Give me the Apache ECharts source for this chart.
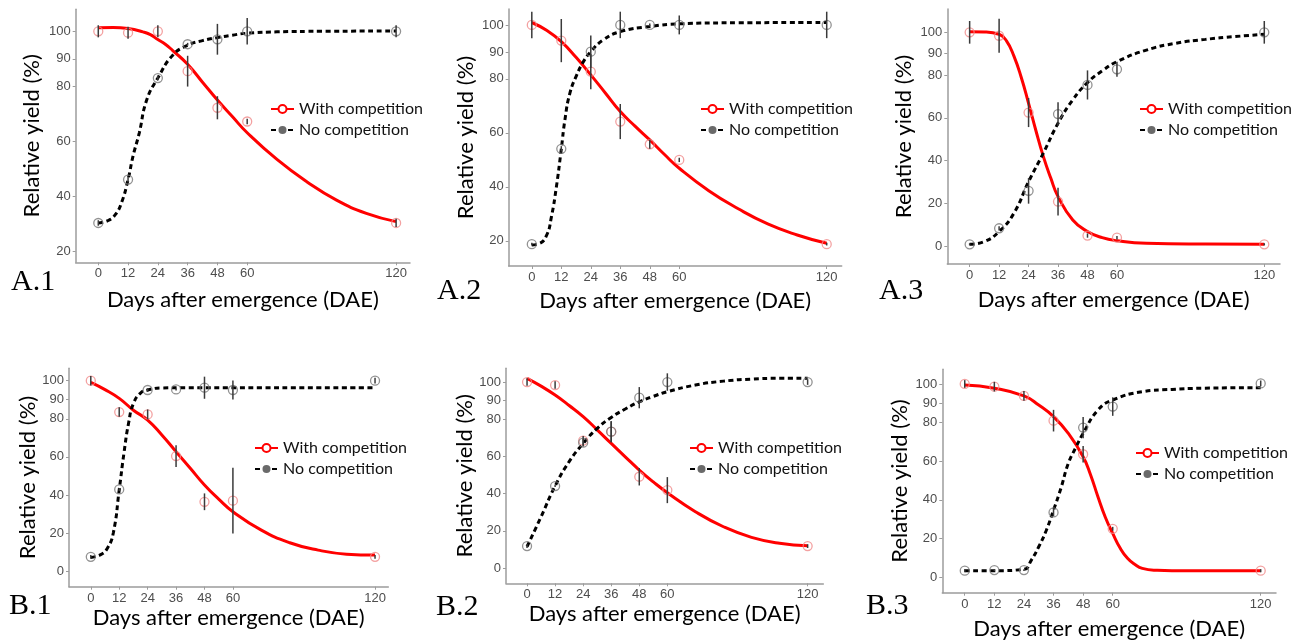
<!DOCTYPE html>
<html>
<head>
<meta charset="utf-8">
<script src="https://cdn.jsdelivr.net/npm/echarts@6/dist/echarts.min.js"></script>
<style>
  body { margin: 0; background: #fff; }
  #chart { width: 1310px; height: 642px; }
</style>
</head>
<body>
<div id="chart"></div>
<script>
// sampling days (x categories) and tick labels
var days = [0, 12, 24, 36, 48, 60, 120];
var yTicksA = [20, 40, 60, 80, 90, 100];
var yTicksB = [0, 20, 40, 60, 80, 90, 100];
var panelNames = ['A.1', 'A.2', 'A.3', 'B.1', 'B.2', 'B.3'];

// observed means and error bars
var a1WithMean = [100, 99.5, 100, 85.5, 72.2, 67.2, 30.3];
var a1WithErr  = [2.2, 2.2, 2.2, 5.6, 4.2, 1, 1.5];
var a1NoMean   = [30.3, 46.1, 83, 95.3, 97.1, 100, 100];
var a1NoErr    = [1, 1, 0.8, 0.5, 5.6, 4.8, 2.2];

var a2WithMean = [100, 94.2, 82.7, 64.2, 55.8, 50, 18.8];
var a2WithErr  = [4.9, 8, 6.5, 6.5, 1.7, 0.8, 0.5];
var a2NoMean   = [18.8, 54.1, 90.1, 100, 100, 100, 100];
var a2NoErr    = [0.5, 1, 6, 4.9, 0.5, 3.5, 4.9];

var a3WithMean = [100, 98.4, 62.5, 20.9, 5, 4, 0.9];
var a3WithErr  = [5.3, 8, 6.8, 6.5, 1, 0.8, 0.5];
var a3NoMean   = [0.9, 8.4, 25.9, 61.8, 75.4, 82.7, 100];
var a3NoErr    = [0.5, 1, 6, 5.5, 6.8, 3.5, 5.3];

var b1WithMean = [100, 83.5, 82.3, 60.4, 36.4, 37, 7.5];
var b1WithErr  = [2.5, 2.5, 2.6, 5.7, 4.4, 17.3, 1];
var b1NoMean   = [7.5, 42.9, 95.1, 95.4, 96.3, 95.1, 100];
var b1NoErr    = [1, 0.8, 1, 0.5, 5.8, 5, 1.5];

var b2WithMean = [100, 98.4, 68.5, 73.3, 49.1, 41.9, 11.8];
var b2WithErr  = [2, 2, 2.5, 5.6, 4.7, 7, 1];
var b2NoMean   = [11.8, 44.1, 67.4, 73.3, 91.6, 100, 100];
var b2NoErr    = [1, 0.5, 2, 5.6, 5.7, 4.7, 1.5];

var b3WithMean = [100, 98.6, 93.8, 81, 63.6, 25, 3.3];
var b3WithErr  = [2, 2.5, 2.5, 5.6, 4.3, 1, 0.8];
var b3NoMean   = [3.3, 3.6, 3.6, 33.5, 77.4, 88.3, 100.3];
var b3NoErr    = [0.8, 0.5, 0.5, 2, 5.5, 4.8, 1.5];

// fitted curves, [day, yield]
var a1WithFit = [[0,101.3],[6,101.4],[12,101],[18,99.8],[21,98.8],[24,97],[27,95.3],[30,93],[36,88],[42,81.5],[48,75],[54,69],[60,63.1],[72,53.4],[84,45.3],[96,38.6],[108,33.8],[120,30.8]];
var a1NoFit   = [[0,30.3],[4,31.2],[7,33.5],[9.5,38],[12,46.1],[14,54.6],[16.5,63],[19.5,75],[24,83],[30,91.3],[36,94.9],[42,96.6],[48,97.7],[54,98.6],[60,99.3],[72,99.8],[90,100],[120,100.1]];

var a2WithFit = [[0,100.9],[6,98],[12,93.8],[18,88],[24,81.5],[30,74.7],[36,67.9],[42,62.5],[48,57.4],[54,52],[60,46.9],[72,38.6],[84,31.9],[96,26.3],[108,22.2],[120,19.1]];
var a2NoFit   = [[0,18.5],[3,19],[6,22],[8,29],[10,40],[12,54],[13.5,65],[15.5,74.7],[18.3,81.5],[21,86.4],[24,90.1],[29,94.4],[36,97.5],[48,99.4],[60,100.4],[84,100.8],[120,100.9]];

var a3WithFit = [[0,100.3],[6,100.2],[12,99.1],[15,96],[18,89],[21,79],[24,66.8],[27,54],[30,42],[33,32],[36,23.2],[42,12.3],[48,6.9],[54,4],[60,2.6],[72,1.4],[96,1],[120,0.9]];
var a3NoFit   = [[0,0.9],[6,2.2],[12,6.9],[18,15.4],[24,30.2],[30,43.5],[36,57.5],[42,68.4],[48,76.5],[54,82],[60,86.3],[72,91.7],[84,94.9],[96,96.7],[108,98],[120,99.1]];

var b1WithFit = [[0,99.1],[6,95.3],[12,90.7],[18,84.5],[24,79.3],[30,71.5],[36,62.7],[42,54],[48,45.2],[54,37.8],[60,31.2],[72,21.5],[84,14.9],[96,11],[108,8.9],[120,8.4]];
var b1NoFit   = [[0,7.2],[4,8.5],[7,12],[9.5,20],[12,42.6],[14,62],[16,78],[18,88],[21,93.5],[24,95.1],[30,96.2],[40,96.3],[120,96.3]];

var b2WithFit = [[0,102],[6,97.8],[12,93],[18,87.4],[24,81.4],[30,74.3],[36,67],[42,59.8],[48,52.7],[54,46.3],[60,40.5],[72,30.3],[84,22.2],[96,16.5],[108,13.3],[120,12]];
var b2NoFit   = [[0,11.5],[6,27.6],[12,44.1],[18,57.2],[24,67],[30,75.1],[36,81],[42,85.5],[48,89.4],[54,92.3],[60,94.8],[72,98.4],[84,100.5],[96,101.6],[108,102],[120,102]];

var b3WithFit = [[0,99.5],[12,97.8],[24,93.8],[30,89.1],[36,83.1],[42,74.4],[48,62.3],[51,53],[54,41.6],[57,31],[60,22.6],[63,15],[66,9.7],[69,6.5],[72,4.5],[78,3.5],[84,3.3],[120,3.3]];
var b3NoFit   = [[0,3.3],[12,3.3],[24,4],[27,8.8],[30,15.7],[33,24],[36,34.7],[39,46],[42,58.9],[45,67],[48,74.4],[54,86.5],[60,91.7],[72,96],[84,97.2],[96,97.8],[120,98.1]];

var panels = [
  {withMean: a1WithMean, withErr: a1WithErr, noMean: a1NoMean, noErr: a1NoErr, withFit: a1WithFit, noFit: a1NoFit, ticks: yTicksA},
  {withMean: a2WithMean, withErr: a2WithErr, noMean: a2NoMean, noErr: a2NoErr, withFit: a2WithFit, noFit: a2NoFit, ticks: yTicksA},
  {withMean: a3WithMean, withErr: a3WithErr, noMean: a3NoMean, noErr: a3NoErr, withFit: a3WithFit, noFit: a3NoFit, ticks: yTicksB},
  {withMean: b1WithMean, withErr: b1WithErr, noMean: b1NoMean, noErr: b1NoErr, withFit: b1WithFit, noFit: b1NoFit, ticks: yTicksB},
  {withMean: b2WithMean, withErr: b2WithErr, noMean: b2NoMean, noErr: b2NoErr, withFit: b2WithFit, noFit: b2NoFit, ticks: yTicksB},
  {withMean: b3WithMean, withErr: b3WithErr, noMean: b3NoMean, noErr: b3NoErr, withFit: b3WithFit, noFit: b3NoFit, ticks: yTicksB}
];

// layout of each small plot (pixels)
var layout = [
  {left: 75.7, top: 9.3, width: 334.3, height: 253, xMin: -9.1, xMax: 125.6, yMin: 16, yMax: 108, yGap: 33, xGap: 27, legL: 270, legT: 101, labL: 11, labT: 267},
  {left: 508.7, top: 9, width: 333, height: 257, xMin: -9.4, xMax: 126.1, yMin: 10.7, yMax: 105.9, yGap: 32, xGap: 24, legL: 700, legT: 101, labL: 437, labT: 276},
  {left: 947.3, top: 9, width: 332.7, height: 255, xMin: -9.1, xMax: 126.4, yMin: -8.3, yMax: 110.9, yGap: 32, xGap: 25, legL: 1139, legT: 101, labL: 879, labT: 276},
  {left: 69, top: 368.3, width: 319.3, height: 218.4, xMin: -9.2, xMax: 125.6, yMin: -8.2, yMax: 106.5, yGap: 28, xGap: 20, legL: 254, legT: 440, labL: 9, labT: 591},
  {left: 506, top: 368.3, width: 317.3, height: 215, xMin: -9, xMax: 126.7, yMin: -8.2, yMax: 107.4, yGap: 30, xGap: 20, legL: 689, legT: 440, labL: 436, labT: 592},
  {left: 942.3, top: 369.3, width: 333.7, height: 223.4, xMin: -9.1, xMax: 126.2, yMin: -8.1, yMax: 107.6, yGap: 31, xGap: 25, legL: 1135, legT: 445, labL: 866, labT: 591}
];

var axisGrey = '#9c9c9c';
var labelGrey = '#4d4d4d';
var titleFont = 'Lato, "Open Sans", sans-serif';

function pairs(mean) {
  return days.map(function (d, i) { return [d, mean[i]]; });
}
function bars(mean, err) {
  return days.map(function (d, i) { return [d, mean[i] - err[i], mean[i] + err[i]]; });
}
function renderBar(params, api) {
  var p1 = api.coord([api.value(0), api.value(1)]);
  var p2 = api.coord([api.value(0), api.value(2)]);
  return {
    type: 'line',
    shape: {x1: p1[0], y1: p1[1], x2: p2[0], y2: p2[1]},
    style: {stroke: '#3a3a3a', lineWidth: 1.5}
  };
}

var grid = [], xAxis = [], yAxis = [], series = [], legend = [], title = [];

panels.forEach(function (p, i) {
  var L = layout[i];
  grid.push({left: L.left, top: L.top, width: L.width, height: L.height});
  xAxis.push({
    gridIndex: i, type: 'value', min: L.xMin, max: L.xMax,
    name: 'Days after emergence (DAE)', nameLocation: 'middle', nameGap: L.xGap,
    nameTextStyle: {fontSize: 22, fontFamily: titleFont, color: '#000'},
    axisLine: {onZero: false, lineStyle: {color: axisGrey, width: 1.5}},
    axisTick: {show: true, length: 3, lineStyle: {color: axisGrey}, customValues: days},
    axisLabel: {fontSize: 13, color: labelGrey, margin: 5, fontFamily: '"Liberation Sans", Arial, sans-serif', customValues: days},
    splitLine: {show: false}
  });
  yAxis.push({
    gridIndex: i, type: 'value', min: L.yMin, max: L.yMax,
    name: 'Relative yield (%)', nameLocation: 'middle', nameGap: L.yGap,
    nameTextStyle: {fontSize: 22, fontFamily: titleFont, color: '#000'},
    axisLine: {show: true, onZero: false, lineStyle: {color: axisGrey, width: 1.5}},
    axisTick: {show: true, length: 3, lineStyle: {color: axisGrey}, customValues: p.ticks},
    axisLabel: {fontSize: 13, color: labelGrey, margin: 5, fontFamily: '"Liberation Sans", Arial, sans-serif', customValues: p.ticks},
    splitLine: {show: false}
  });

  // fitted curves
  series.push({
    name: 'With competition', type: 'line', xAxisIndex: i, yAxisIndex: i,
    data: p.withFit, smooth: 0.5, showSymbol: false,
    symbol: 'emptyCircle', symbolSize: 8,
    lineStyle: {color: '#ff0000', width: 3}, itemStyle: {color: '#ff0000', borderColor: '#f59a9a'},
    z: 3, silent: true
  });
  series.push({
    name: 'No competition', type: 'line', xAxisIndex: i, yAxisIndex: i,
    data: p.noFit, smooth: 0.5, showSymbol: false,
    symbol: 'circle', symbolSize: 8,
    lineStyle: {color: '#000', width: 3, type: [5, 3.5]}, itemStyle: {color: '#6a6a6a', borderColor: '#aaa'},
    z: 3, silent: true
  });
  // observed points
  series.push({
    name: 'with obs', type: 'scatter', xAxisIndex: i, yAxisIndex: i,
    data: pairs(p.withMean), symbol: 'circle', symbolSize: 9,
    itemStyle: {color: 'rgba(255,255,255,0)', borderColor: '#f08a8a', borderWidth: 1.3}, z: 4, silent: true
  });
  series.push({
    name: 'no obs', type: 'scatter', xAxisIndex: i, yAxisIndex: i,
    data: pairs(p.noMean), symbol: 'circle', symbolSize: 9,
    itemStyle: {color: 'rgba(255,255,255,0)', borderColor: '#777', borderWidth: 1.3}, z: 4, silent: true
  });
  // error bars
  series.push({
    name: 'with err', type: 'custom', xAxisIndex: i, yAxisIndex: i,
    data: bars(p.withMean, p.withErr), renderItem: renderBar,
    encode: {x: 0, y: [1, 2]}, z: 5, silent: true
  });
  series.push({
    name: 'no err', type: 'custom', xAxisIndex: i, yAxisIndex: i,
    data: bars(p.noMean, p.noErr), renderItem: renderBar,
    encode: {x: 0, y: [1, 2]}, z: 5, silent: true
  });

  legend.push({
    data: ['With competition', 'No competition'],
    orient: 'vertical', left: L.legL, top: L.legT, padding: 0,
    itemWidth: 23, itemHeight: 10, itemGap: 5, selectedMode: false,
    textStyle: {fontSize: 16, lineHeight: 16, fontFamily: titleFont, color: '#111'}
  });
  title.push({
    text: panelNames[i], left: L.labL, top: L.labT, padding: 0,
    textStyle: {fontSize: 30, fontWeight: 'normal', fontFamily: '"Liberation Serif", "Times New Roman", serif', color: '#000'}
  });
});

var myChart = echarts.init(document.getElementById('chart'));
myChart.setOption({
  animation: false,
  title: title,
  legend: legend,
  grid: grid,
  xAxis: xAxis,
  yAxis: yAxis,
  series: series
});
</script>
</body>
</html>
